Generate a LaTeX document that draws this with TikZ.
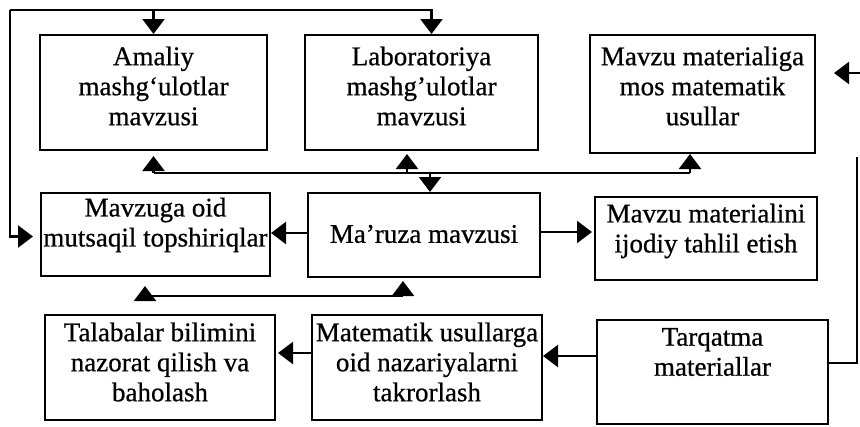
\documentclass[tikz,border=0pt]{standalone}
\usepackage{fontspec}
\setmainfont[FakeBold=0.7]{Liberation Serif}
\usetikzlibrary{arrows.meta}
\begin{document}
\begin{tikzpicture}[x=1pt,y=-1pt,
  box/.style={draw, line width=2pt, inner sep=0pt},
  txt/.style={align=center, inner sep=0pt, font=\fontsize{27}{30}\selectfont},
  arr/.style={line width=2.2pt, -{Triangle[length=15pt 0,width=22pt 0]}},
  ln/.style={line width=2.2pt}]
\useasboundingbox (0,0) rectangle (860,426);

% boxes
\node[box, minimum width=227pt, minimum height=115pt] (amaliy) at (153.5,92.5) {};
\node[txt] (amaliyT) at (153.5,86) {Amaliy\\mashg‘ulotlar\\mavzusi};

\node[box, minimum width=233pt, minimum height=115pt] (lab) at (421.5,92.5) {};
\node[txt] (labT) at (421.5,86) {Laboratoriya\\mashg’ulotlar\\mavzusi};

\node[box, minimum width=225pt, minimum height=118pt] (mmat) at (702.5,94) {};
\node[txt] (mmatT) at (702.5,86) {Mavzu materialiga\\mos matematik\\usullar};

\node[box, minimum width=229pt, minimum height=83pt] (oid) at (155.5,234.5) {};
\node[txt] (oidT) at (155.5,225) {Mavzuga oid\\mutsaqil topshiriqlar};

\node[box, minimum width=232pt, minimum height=84pt] (maruza) at (424,235) {};
\node[txt] (maruzaT) at (424,234) {Ma’ruza mavzusi};

\node[box, minimum width=222pt, minimum height=83pt] (ijod) at (706,238.5) {};
\node[txt] (ijodT) at (706,231) {Mavzu materialini\\ijodiy tahlil etish};

\node[box, minimum width=230pt, minimum height=105pt] (talaba) at (160,367.5) {};
\node[txt] (talabaT) at (160,362) {Talabalar bilimini\\nazorat qilish va\\baholash};

\node[box, minimum width=230pt, minimum height=105pt] (takror) at (427,367.5) {};
\node[txt] (takrorT) at (427,362) {Matematik usullarga\\oid nazariyalarni\\takrorlash};

\node[box, minimum width=231pt, minimum height=104pt] (tarq) at (712.5,372) {};
\node[txt] (tarqT) at (712.5,352) {Tarqatma\\materiallar};

% top loop
\coordinate (tl) at (10,10);
\coordinate (labin) at ([xshift=10pt]lab.north);
\draw[ln] (tl) -- (tl -| labin);
\draw[arr] (tl -| amaliy.north) -- (amaliy.north);
\draw[arr] (tl) -| (labin);
\draw[arr] (tl) |- ([xshift=-7pt,yshift=-2pt]oid.west);

% middle bus
\coordinate (bus) at (0,173);
\coordinate (aIn) at ([yshift=-5pt]amaliy.south);
\coordinate (lIn) at ([xshift=-14.5pt,yshift=-3pt]lab.south);
\coordinate (mIn) at ([xshift=-12.5pt]mmat.south);
\coordinate (rIn) at ([xshift=6pt]maruza.north);
\draw[ln] (bus -| aIn) -- (bus -| mIn);
\draw[arr] (bus -| aIn) -- (aIn);
\draw[arr] (bus -| lIn) -- (lIn);
\draw[arr] (bus -| mIn) -- (mIn);
\draw[arr] (bus -| rIn) -- (rIn);

% lower bus
\coordinate (lbus) at (0,296);
\coordinate (oIn) at ([xshift=-10.5pt,yshift=-9pt]oid.south);
\coordinate (mrIn) at ([xshift=-21pt,yshift=-3pt]maruza.south);
\draw[ln] (lbus -| oIn) -- (lbus -| mrIn);
\draw[arr] (lbus -| oIn) -- (oIn);
\draw[arr] (lbus -| mrIn) -- (mrIn);

% horizontal arrows
\coordinate (mW) at ([yshift=2pt]maruza.west);
\coordinate (mE) at ([yshift=3pt]maruza.east);
\coordinate (ijW) at ([xshift=-2pt]ijod.west);
\coordinate (tW) at ([yshift=16pt]tarq.west);
\coordinate (kW) at ([yshift=14.5pt]takror.west);
\coordinate (tbE) at ([xshift=2pt]talaba.east);
\draw[arr] (mW) -- (mW -| oid.east);
\draw[arr] (mE) -- (mE -| ijW);
\draw[arr] (tW) -- (tW -| takror.east);
\draw[arr] (kW) -- (kW -| tbE);

% right side
\coordinate (rr) at (857,157);
\draw[ln] ([yshift=9pt]tarq.east) -| (rr);
\coordinate (re) at (862,73);
\coordinate (mmatR) at ([xshift=18pt]mmat.east);
\draw[arr] (re) -- (re -| mmatR);
\end{tikzpicture}
\end{document}
